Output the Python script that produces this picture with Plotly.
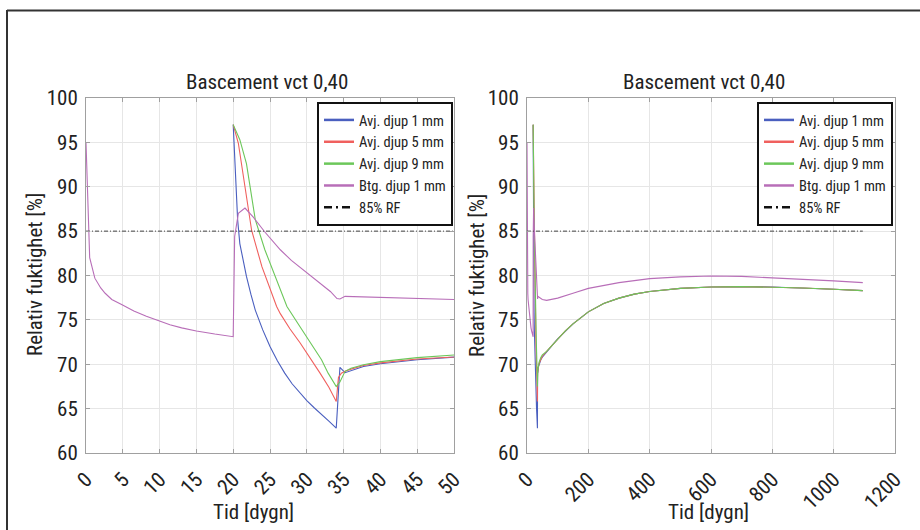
import plotly.graph_objects as go

W, H = 920, 530

# ---------------- data ----------------
series_names = ["Avj. djup 1 mm", "Avj. djup 5 mm", "Avj. djup 9 mm", "Btg. djup 1 mm"]
series_colors = ["#4a5fbf", "#f0605e", "#6cc75a", "#b86eb8"]
rf_name = "85% RF"
rf_level = 85
plot_title = "Bascement vct 0,40"
x_title = "Tid [dygn]"
y_title = "Relativ fuktighet [%]"

# shared long-term tail of the three "Avj." curves (days > 50)
tail_t = [64, 80, 100, 125, 150, 200, 250, 300, 350, 400, 500, 600, 700, 800, 900, 1000, 1095]
tail_avj = [71.45, 72.05, 72.85, 73.75, 74.55, 75.9, 76.85, 77.45, 77.9, 78.2,
            78.55, 78.7, 78.75, 78.7, 78.6, 78.45, 78.3]

blue_t = [20.0, 20.3, 20.6, 20.9, 21.4, 21.8, 22.4, 23.0, 24.0, 25.0, 26.0, 27.0, 28.0,
          29.0, 30.0, 31.0, 32.0, 33.0, 34.0, 34.5, 35.2, 36.0, 37.7, 40.0, 45.0, 50.0] + tail_t
blue_v = [97.0, 91.1, 86.3, 83.6, 81.5, 79.9, 77.9, 76.1, 73.9, 72.0, 70.4, 69.0, 67.8,
          66.8, 65.9, 65.1, 64.4, 63.6, 62.8, 69.65, 69.05, 69.3, 69.75, 70.05, 70.5, 70.8] + tail_avj

red_t = [20.0, 20.7, 21.6, 22.5, 23.9, 25.0, 25.9, 26.4, 27.7, 29.1, 30.5, 31.8, 33.0,
         34.0, 34.3, 34.7, 35.2, 36.0, 37.7, 40.0, 45.0, 50.0] + tail_t
red_v = [97.0, 94.9, 90.0, 85.1, 81.0, 78.4, 76.5, 75.7, 74.0, 72.4, 70.7, 69.0, 67.4,
         65.8, 68.5, 69.0, 69.2, 69.45, 69.85, 70.15, 70.6, 70.9] + tail_avj

green_t = [20.0, 20.9, 21.8, 22.4, 23.0, 24.3, 25.7, 26.4, 27.3, 29.1, 30.5, 32.0, 32.9,
           34.0, 34.5, 35.2, 36.0, 37.7, 40.0, 45.0, 50.0] + tail_t
green_v = [97.0, 95.3, 92.6, 89.5, 86.3, 82.9, 79.9, 78.3, 76.5, 74.2, 72.4, 70.5, 69.0,
           67.5, 68.0, 69.2, 69.55, 69.95, 70.3, 70.75, 71.05] + tail_avj

purple_t = [0.0, 0.5, 1.2, 2.0, 2.6, 3.5, 4.9, 6.5, 8.2, 10.0, 11.4, 13.0, 15.0, 17.5, 20.0,
            20.2, 20.7, 21.6, 22.7, 24.3, 26.4, 27.9, 30.0, 32.2, 33.2, 34.1, 34.5, 35.2,
            37.0, 40.0, 45.0, 50.0, 64, 100, 150, 200, 300, 400, 500, 600, 700, 800, 900,
            1000, 1095]
purple_v = [95.0, 82.0, 79.7, 78.6, 78.0, 77.3, 76.7, 76.0, 75.4, 74.85, 74.45, 74.1, 73.75,
            73.4, 73.1, 84.4, 87.0, 87.6, 86.6, 84.9, 82.9, 81.7, 80.3, 78.9, 78.2, 77.4,
            77.35, 77.65, 77.6, 77.55, 77.4, 77.3, 77.2, 77.45, 78.0, 78.55, 79.2, 79.65,
            79.85, 79.95, 79.9, 79.75, 79.6, 79.4, 79.2]

rf_t = [0, 1095]

series_t = [blue_t, red_t, green_t, purple_t]
series_v = [blue_v, red_v, green_v, purple_v]

left_xticks = list(range(0, 51, 5))
right_xticks = list(range(0, 1201, 200))
yticks = list(range(60, 101, 5))

# ---------------- figure ----------------
FONT = "Liberation Sans Narrow, Roboto Condensed, DejaVu Sans Condensed, Arial Narrow, sans-serif"
TXT = "#222222"
FS = 21
LFS = 14.5

def px_x(p):
    return p / W

def px_y(p):
    return 1 - p / H

fig = go.Figure()

panels = [("x", "y", "legend"), ("x2", "y2", "legend2")]
for xa, ya, lg in panels:
    for t, v, c in zip(series_t, series_v, series_colors):
        fig.add_trace(go.Scatter(x=t, y=v, mode="lines", xaxis=xa, yaxis=ya,
                                 line=dict(color=c, width=1.1), showlegend=False,
                                 hoverinfo="skip"))
    fig.add_trace(go.Scatter(x=rf_t, y=[rf_level] * len(rf_t), mode="lines", xaxis=xa, yaxis=ya,
                             line=dict(color="#444444", width=1, dash="4px,2px,1px,2px"),
                             showlegend=False, hoverinfo="skip"))
    # legend entries
    for n, c in zip(series_names, series_colors):
        fig.add_trace(go.Scatter(x=[None], y=[None], mode="lines", xaxis=xa, yaxis=ya,
                                 name=n, line=dict(color=c, width=2.5), legend=lg))
    fig.add_trace(go.Scatter(x=[None], y=[None], mode="lines", xaxis=xa, yaxis=ya,
                             name=rf_name, line=dict(color="#111111", width=2.5,
                                                     dash="8px,4px,2px,4px"), legend=lg))

axis_common = dict(
    showgrid=True, gridcolor="#e6e6e6", gridwidth=1,
    showline=True, linecolor="#a0a0a0", linewidth=1, mirror="ticks",
    ticks="inside", ticklen=4, tickcolor="#a0a0a0",
    zeroline=False, tickfont=dict(family=FONT, size=FS, color=TXT),
    fixedrange=True, automargin=False,
)

yd = [px_y(453), px_y(98)]
legend_common = dict(xanchor="right", yanchor="top",
                     bordercolor="#111111", borderwidth=2, bgcolor="white",
                     font=dict(family=FONT, size=LFS, color=TXT), tracegroupgap=0)
fig.update_layout(
    template="none",
    width=W, height=H,
    margin=dict(l=0, r=0, t=0, b=0, pad=0, autoexpand=False),
    paper_bgcolor="white", plot_bgcolor="white",
    font=dict(family=FONT, color=TXT),
    xaxis=dict(domain=[px_x(86), px_x(454)], range=[0, 50], tickvals=left_xticks,
               tickangle=-45, anchor="y", ticklabelstandoff=5, **axis_common),
    yaxis=dict(domain=yd, range=[60, 100], tickvals=yticks, anchor="x",
               ticklabelstandoff=3, **axis_common),
    xaxis2=dict(domain=[px_x(527), px_x(895)], range=[0, 1200], tickvals=right_xticks,
                tickangle=-45, anchor="y2", ticklabelstandoff=5, **axis_common),
    yaxis2=dict(domain=yd, range=[60, 100], tickvals=yticks, anchor="x2",
                ticklabelstandoff=3, **axis_common),
    legend=dict(x=px_x(453), y=px_y(102), **legend_common),
    legend2=dict(x=px_x(893), y=px_y(102), **legend_common),
    showlegend=True,
)

ann = []
for cx in (267, 704):
    ann.append(dict(text=plot_title, x=px_x(cx), y=px_y(82), xref="paper", yref="paper",
                    showarrow=False, font=dict(family=FONT, size=FS, color=TXT),
                    xanchor="center", yanchor="middle"))
for cx in (253, 708):
    ann.append(dict(text=x_title, x=px_x(cx), y=px_y(512), xref="paper", yref="paper",
                    showarrow=False, font=dict(family=FONT, size=FS, color=TXT),
                    xanchor="center", yanchor="middle"))
for cx in (35, 477):
    ann.append(dict(text=y_title, x=px_x(cx), y=px_y(275), xref="paper", yref="paper",
                    showarrow=False, textangle=-90, font=dict(family=FONT, size=FS, color=TXT),
                    xanchor="center", yanchor="middle"))
fig.update_layout(annotations=ann)

# outer frame (top and left edges)
fig.update_layout(shapes=[
    dict(type="line", xref="paper", yref="paper", x0=px_x(7), x1=1.0, y0=px_y(10.5), y1=px_y(10.5),
         line=dict(color="#333333", width=2)),
    dict(type="line", xref="paper", yref="paper", x0=px_x(7), x1=px_x(7), y0=px_y(10), y1=0,
         line=dict(color="#333333", width=2)),
])

fig.write_html("out.html")
